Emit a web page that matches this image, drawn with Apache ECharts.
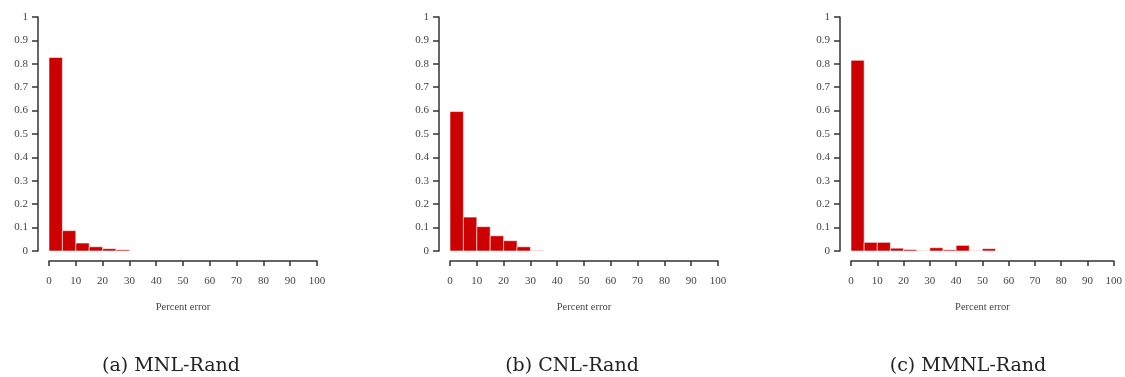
<!DOCTYPE html>
<html>
<head>
<meta charset="utf-8">
<script src="https://cdn.jsdelivr.net/npm/echarts@6/dist/echarts.min.js"></script>
<style>
html,body{margin:0;padding:0;background:#fff;}
#chart{width:1125px;height:377px;}
</style>
</head>
<body>
<div id="chart"></div>
<script>
// Histogram bins (percent error)
const binLo = [0, 5, 10, 15, 20, 25, 30, 35, 40, 45, 50];
const binHi = [5, 10, 15, 20, 25, 30, 35, 40, 45, 50, 55];
// Fraction of cases per bin
const mnlValues  = [0.827, 0.087, 0.034, 0.018, 0.010, 0.005];
const cnlValues  = [0.596, 0.145, 0.104, 0.065, 0.044, 0.018, 0.002];
const mmnlValues = [0.815, 0.037, 0.037, 0.012, 0.006, 0.001, 0.014, 0.005, 0.024, 0.001, 0.010];
const captions = ['(a) MNL-Rand', '(b) CNL-Rand', '(c) MMNL-Rand'];
const xTicks = [0, 100, 10];   // min, max, interval
const yTicks = [0, 1, 0.1];
const xName = 'Percent error';

const panels = [mnlValues, cnlValues, mmnlValues];
const gridLefts = [49, 450, 851];
const captionX = [171, 572, 968];
const serif = 'Liberation Serif';
const axisColor = '#333';
const textColor = '#444';

function toData(vals) {
  return vals.map((v, i) => [binLo[i], binHi[i], v]);
}

const grids = [], xAxes = [], yAxes = [], series = [], graphics = [];
panels.forEach((vals, k) => {
  grids.push({left: gridLefts[k], top: 17, width: 268, height: 234, containLabel: false});
  xAxes.push({
    type: 'value', gridIndex: k, min: xTicks[0], max: xTicks[1], interval: xTicks[2],
    position: 'bottom', offset: 10,
    axisLine: {show: true, onZero: false, lineStyle: {color: axisColor, width: 1.5}},
    axisTick: {show: true, length: 5, lineStyle: {color: axisColor, width: 1.5}},
    axisLabel: {margin: 15, fontFamily: serif, fontSize: 11, color: textColor, showMinLabel: true, showMaxLabel: true},
    splitLine: {show: false},
    name: xName, nameLocation: 'middle', nameGap: 41,
    nameTextStyle: {fontFamily: serif, fontSize: 10.5, color: textColor}
  });
  yAxes.push({
    type: 'value', gridIndex: k, min: yTicks[0], max: yTicks[1], interval: yTicks[2],
    position: 'left', offset: 11,
    axisLine: {show: true, onZero: false, lineStyle: {color: axisColor, width: 1.5}},
    axisTick: {show: true, length: 6, lineStyle: {color: axisColor, width: 1.5}},
    axisLabel: {margin: 10, fontFamily: serif, fontSize: 11, color: textColor,
      formatter: v => String(Math.round(v * 10) / 10)},
    splitLine: {show: false}
  });
  series.push({
    type: 'custom', xAxisIndex: k, yAxisIndex: k,
    data: toData(vals),
    renderItem: function (params, api) {
      const p0 = api.coord([api.value(0), api.value(2)]);
      const p1 = api.coord([api.value(1), 0]);
      return {
        type: 'rect',
        shape: {x: p0[0], y: p0[1], width: p1[0] - p0[0], height: p1[1] - p0[1]},
        style: {fill: '#cc0000', stroke: 'rgba(255,255,255,0.7)', lineWidth: 0.8}
      };
    }
  });
  graphics.push({
    type: 'text', x: captionX[k], y: 366,
    style: {text: captions[k], fontFamily: 'DejaVu Serif', fontSize: 19, fill: '#222',
      textAlign: 'center', textVerticalAlign: 'middle'}
  });
});

const chart = echarts.init(document.getElementById('chart'), null, {renderer: 'canvas'});
chart.setOption({
  animation: false,
  backgroundColor: '#fff',
  grid: grids, xAxis: xAxes, yAxis: yAxes, series: series,
  graphic: graphics
});
</script>
</body>
</html>
